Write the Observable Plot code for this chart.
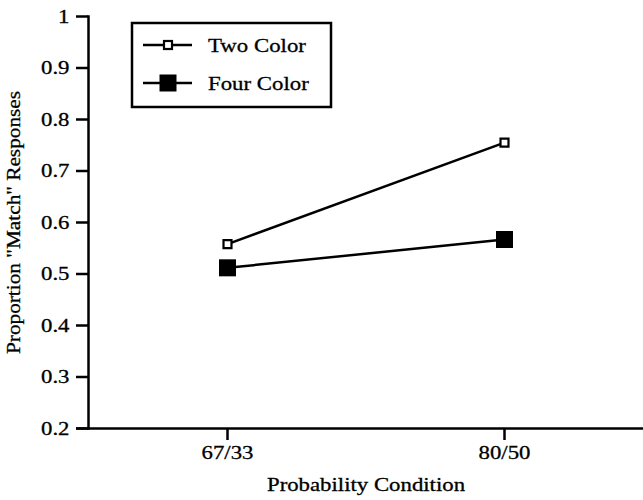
<!DOCTYPE html>
<html>
<head>
<meta charset="utf-8">
<script src="https://cdn.jsdelivr.net/npm/d3@7"></script>
<script src="https://cdn.jsdelivr.net/npm/@observablehq/plot@0.6"></script>
<style>
  body { margin: 0; background: white; }
  #wrap { position: relative; width: 643px; height: 500px; font-family: "Liberation Serif", serif; }
  #legend { position: absolute; left: 0; top: 0; }
  #wrap text { stroke: black; stroke-width: 0.3px; }
</style>
</head>
<body>
<div id="wrap"></div>
<script>
const conditions = ["67/33", "80/50"];
const seriesNames = ["Two Color", "Four Color"];
const twoColor = [0.558, 0.755];
const fourColor = [0.512, 0.567];
const yTicks = [0.2, 0.3, 0.4, 0.5, 0.6, 0.7, 0.8, 0.9, 1];
const yTickLabels = ["0.2", "0.3", "0.4", "0.5", "0.6", "0.7", "0.8", "0.9", "1"];

const data = [
  ...conditions.map((c, i) => ({condition: c, value: twoColor[i], series: seriesNames[0]})),
  ...conditions.map((c, i) => ({condition: c, value: fourColor[i], series: seriesNames[1]}))
];

const chart = Plot.plot({
  width: 643,
  height: 500,
  marginLeft: 88,
  marginRight: 0,
  marginTop: 16,
  marginBottom: 72,
  style: {fontFamily: "Liberation Serif, serif", fontSize: "19px", color: "black", background: "white"},
  x: {type: "point", domain: conditions, padding: 0.5},
  y: {domain: [0.2, 1]},
  marks: [
    Plot.axisY({
      ticks: yTicks,
      tickFormat: (d) => yTickLabels[yTicks.indexOf(d)],
      tickSize: 12, tickPadding: 7, strokeWidth: 2.5, fontSize: 19,
      label: "Proportion \"Match\" Responses", labelAnchor: "center", labelArrow: "none", labelOffset: 82
    }),
    Plot.axisX({
      tickSize: 12, tickPadding: 5, strokeWidth: 2.5, fontSize: 19,
      label: "Probability Condition", labelAnchor: "center", labelArrow: "none", labelOffset: 62
    }),
    Plot.frame({anchor: "left", strokeWidth: 2.5}),
    Plot.ruleY([0.2], {strokeWidth: 2.5, insetLeft: -12}),
    Plot.line(data, {x: "condition", y: "value", z: "series", stroke: "black", strokeWidth: 2.5}),
    Plot.dot(data.filter(d => d.series === seriesNames[1]), {x: "condition", y: "value", symbol: "square", r: 9.6, fill: "black"}),
    Plot.dot(data.filter(d => d.series === seriesNames[0]), {x: "condition", y: "value", symbol: "square", r: 4.5, fill: "white", stroke: "black", strokeWidth: 2.2})
  ]
});

// widen the serif text to match the printed face
function stretch(selector, k) {
  chart.querySelectorAll(selector).forEach((t) => {
    const tr = t.getAttribute("transform") || "";
    t.setAttribute("transform", tr + ` scale(${k},1)`);
  });
}
stretch('g[aria-label="y-axis tick label"] text', 1.2);
stretch('g[aria-label="x-axis tick label"] text', 1.2);
stretch('g[aria-label="x-axis label"] text', 1.2);
stretch('g[aria-label="y-axis label"] text', 1.12);

const wrap = document.getElementById("wrap");
wrap.appendChild(chart);

// Legend overlay
const ns = "http://www.w3.org/2000/svg";
const leg = document.createElementNS(ns, "svg");
leg.setAttribute("id", "legend");
leg.setAttribute("width", 643);
leg.setAttribute("height", 500);
leg.style.pointerEvents = "none";
const box = document.createElementNS(ns, "rect");
box.setAttribute("x", 132); box.setAttribute("y", 23);
box.setAttribute("width", 199); box.setAttribute("height", 84);
box.setAttribute("fill", "white"); box.setAttribute("stroke", "black"); box.setAttribute("stroke-width", 2.5);
leg.appendChild(box);
seriesNames.forEach((name, i) => {
  const cy = 45 + i * 38;
  const ln = document.createElementNS(ns, "line");
  ln.setAttribute("x1", 143); ln.setAttribute("x2", 192);
  ln.setAttribute("y1", cy); ln.setAttribute("y2", cy);
  ln.setAttribute("stroke", "black"); ln.setAttribute("stroke-width", 2.5);
  leg.appendChild(ln);
  const sq = document.createElementNS(ns, "rect");
  if (i === 0) {
    sq.setAttribute("x", 164); sq.setAttribute("y", cy - 4); sq.setAttribute("width", 8); sq.setAttribute("height", 8);
    sq.setAttribute("fill", "white"); sq.setAttribute("stroke", "black"); sq.setAttribute("stroke-width", 2.2);
  } else {
    sq.setAttribute("x", 159.5); sq.setAttribute("y", cy - 8.5); sq.setAttribute("width", 17); sq.setAttribute("height", 17);
    sq.setAttribute("fill", "black");
  }
  leg.appendChild(sq);
  const t = document.createElementNS(ns, "text");
  t.setAttribute("transform", `translate(208,${cy}) scale(1.17,1)`);
  t.setAttribute("dy", "0.35em");
  t.setAttribute("font-family", "Liberation Serif, serif");
  t.setAttribute("font-size", 19.5);
  t.textContent = name;
  leg.appendChild(t);
});
wrap.appendChild(leg);
</script>
</body>
</html>
